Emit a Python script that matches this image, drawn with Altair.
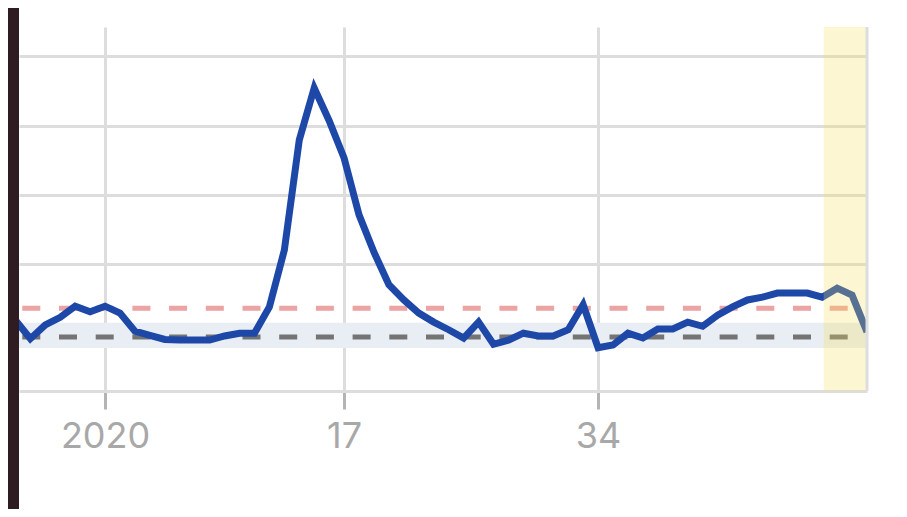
import altair as alt
import pandas as pd

# Weeks counted from 2020 week 1 (k = 0); labels show the week number
weeks = list(range(-6, 52))
values = [1.19, 0.92, 1.12, 1.23, 1.39, 1.31,   # 2019 w47..w52
          1.39, 1.29, 1.03, 0.97, 0.91, 0.90, 0.90, 0.90, 0.96, 1.00,
          1.00, 1.38, 2.20, 3.79, 4.54, 4.07, 3.53, 2.71, 2.17, 1.70,
          1.48, 1.29, 1.16, 1.05, 0.93, 1.16, 0.84, 0.90, 1.00, 0.96,
          0.96, 1.05, 1.41, 0.79, 0.83, 1.00, 0.93, 1.06, 1.06, 1.16,
          1.10, 1.26, 1.38, 1.48, 1.52, 1.58, 1.58, 1.58, 1.52, 1.65,
          1.55, 1.02]

tick_weeks = [0, 16, 33]
y_ticks = [1, 2, 3, 4, 5]
x_domain = [-5.76, 51]
y_domain = [0.165, 5.423]

threshold = [1.36]
baseline = [0.945]
band_low = [0.786]
band_high = [1.152]
highlight_start = [48.1]
highlight_end = [51]

W, H = 848, 364

df = pd.DataFrame({"week": weeks, "value": values})

xscale = alt.Scale(domain=x_domain, nice=False, zero=False)
yscale = alt.Scale(domain=y_domain, nice=False, zero=False)

xaxis = alt.Axis(values=tick_weeks,
                 labelExpr="datum.value == 0 ? '2020' : toString(datum.value + 1)",
                 title=None, grid=True, gridColor="#dddddd", gridWidth=3,
                 domainColor="#dddddd", domainWidth=3,
                 tickColor="#b4b4b4", tickWidth=3, tickSize=18,
                 labelFont="Inter", labelFontSize=36, labelColor="#a8a8a8",
                 labelPadding=10)
yaxis = alt.Axis(values=y_ticks, labels=False, ticks=False, domain=False,
                 title=None, grid=True, gridColor="#dddddd", gridWidth=3)

band = alt.Chart(pd.DataFrame({"lo": band_low, "hi": band_high})).mark_rect(
    color="#e8eef3").encode(
    x=alt.value(0), x2=alt.value(W),
    y=alt.Y("lo:Q", scale=yscale, axis=yaxis), y2="hi:Q")

red = alt.Chart(pd.DataFrame({"v": threshold})).mark_rule(
    color="#eba3a3", strokeWidth=5, strokeDash=[18, 18.7], strokeDashOffset=17.4
).encode(y=alt.Y("v:Q", scale=yscale))

gray = alt.Chart(pd.DataFrame({"v": baseline})).mark_rule(
    color="#747474", strokeWidth=5, strokeDash=[18, 18.7], strokeDashOffset=17.4
).encode(y=alt.Y("v:Q", scale=yscale))

line = alt.Chart(df).mark_line(color="#1e48a8", strokeWidth=7, clip=True).encode(
    x=alt.X("week:Q", scale=xscale, axis=xaxis),
    y=alt.Y("value:Q", scale=yscale))

highlight = alt.Chart(pd.DataFrame({"a": highlight_start, "b": highlight_end})).mark_rect(
    color="#f7dd5a", opacity=0.27).encode(
    x=alt.X("a:Q", scale=xscale), x2="b:Q",
    y=alt.value(0), y2=alt.value(H))

edge = alt.Chart(pd.DataFrame({"e": highlight_end})).mark_rule(
    color="#dddddd", strokeWidth=3).encode(
    x=alt.X("e:Q", scale=xscale), y=alt.value(0), y2=alt.value(H))

frame = alt.Chart(pd.DataFrame({"d": [0]})).mark_rect(color="#2f1b22").encode(
    x=alt.value(-11), x2=alt.value(0), y=alt.value(-19), y2=alt.value(H + 130))

chart = alt.layer(band, red, gray, line, highlight, edge, frame).properties(
    width=W, height=H,
    autosize=alt.AutoSizeParams(type="none"),
    padding={"left": 11, "top": 19, "right": 32, "bottom": 118},
    background="white",
).configure_view(stroke=None)

chart.save("out.html", embed_options={"renderer": "svg", "actions": False})
